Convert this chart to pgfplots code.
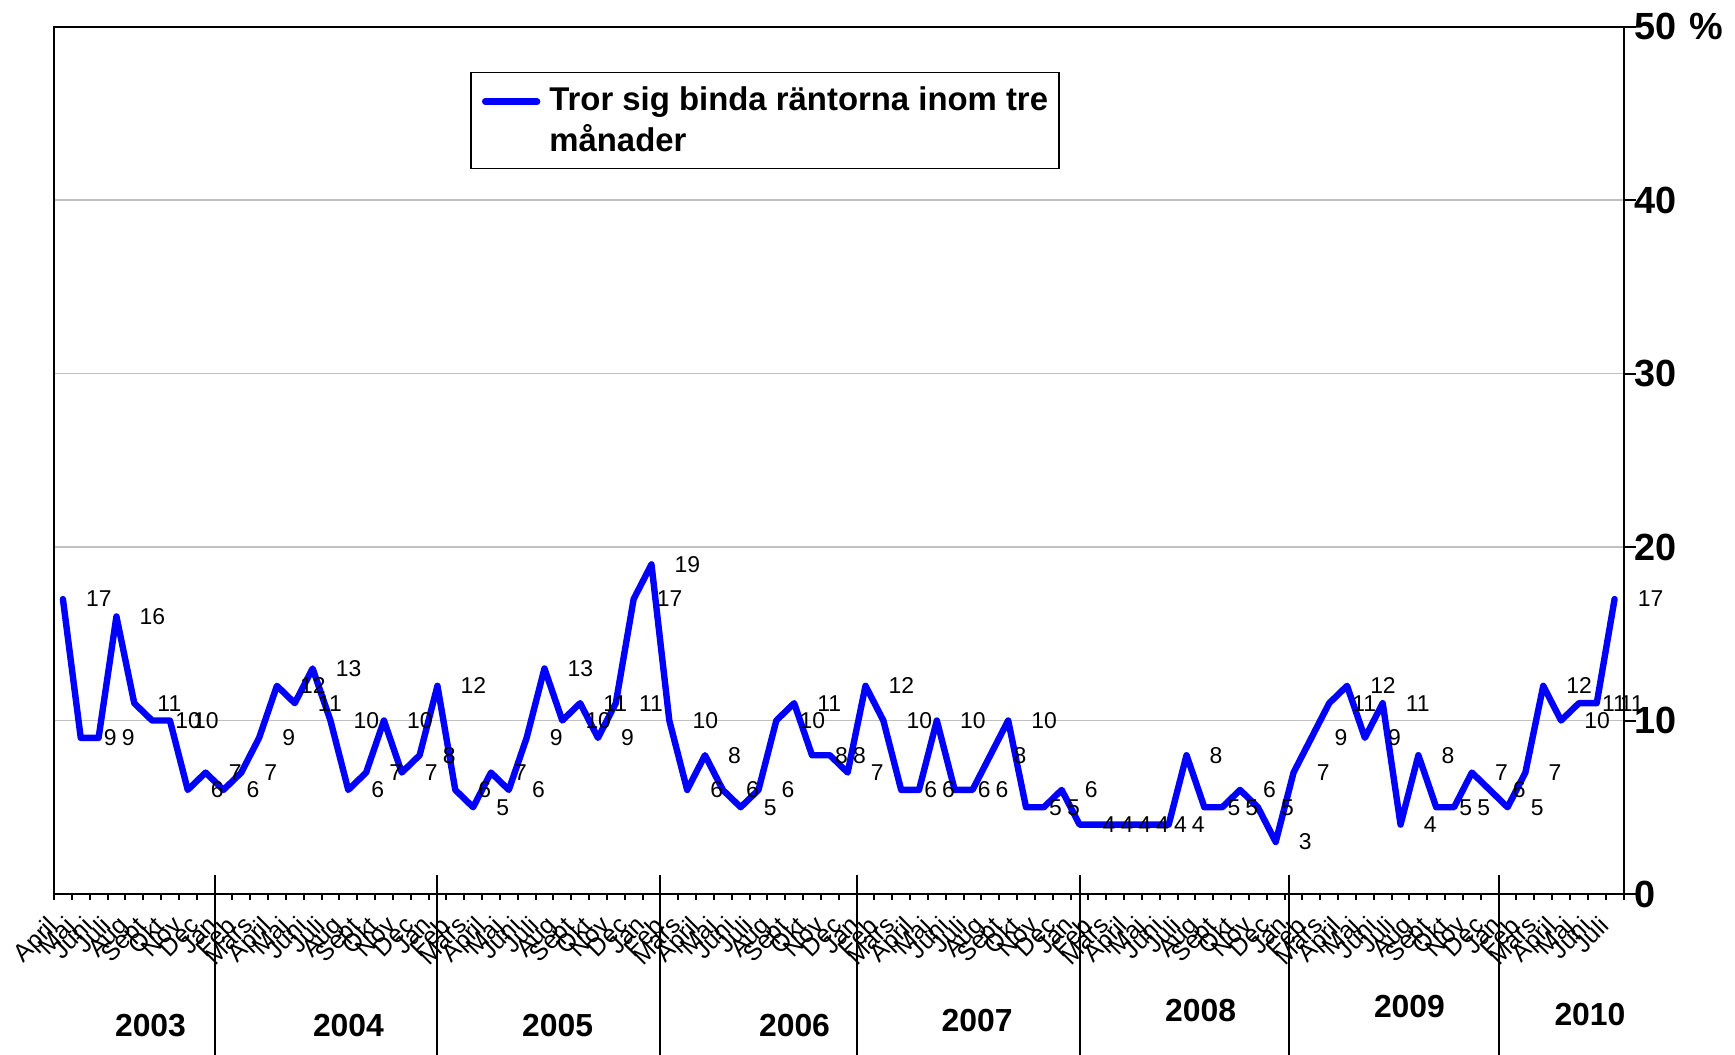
\documentclass[border=0pt]{standalone}
\usepackage{fontspec}
\setmainfont{Liberation Sans}
\usepackage{pgfplots}
\pgfplotsset{compat=1.18}
\definecolor{gridgray}{RGB}{192,192,192}
\definecolor{lineblue}{RGB}{0,0,255}

\begin{document}
\begin{tikzpicture}
\useasboundingbox (0,0) rectangle (867.5bp,527.5bp);
\begin{axis}[
  at={(27bp,80.5bp)}, anchor=south west,
  width=784.75bp, height=433.7bp, scale only axis,
  xmin=0, xmax=88, ymin=0, ymax=50,
  clip=false,
  axis line style={line width=1bp, black},
  every tick/.style={black, line width=1bp},
  tick align=outside,
  xtick={0,...,88},
  xtick pos=left,
  ytick={0,10,...,50},
  ytick pos=right,
  yticklabel pos=right,
  yticklabels={\textbf{0},\textbf{10},\textbf{20},\textbf{30},\textbf{40},\textbf{50\hspace{0.35em}\%}},
  yticklabel style={font=\fontsize{19}{19}\selectfont, anchor=west, inner sep=1bp},
  xtick style={/pgfplots/major tick length=3bp},
  ytick style={/pgfplots/major tick length=6bp},
  xticklabels={April,Maj,Juni,Juli,Aug,Sept,Okt,Nov,Dec,
    Jan,Feb,Mars,April,Maj,Juni,Juli,Aug,Sept,Okt,Nov,Dec,
    Jan,Feb,Mars,April,Maj,Juni,Juli,Aug,Sept,Okt,Nov,Dec,
    Jan,Feb,Mars,April,Maj,Juni,Juli,Aug,Sept,Okt,Nov,Dec,
    Jan,Feb,Mars,April,Maj,Juni,Juli,Aug,Sept,Okt,Nov,Dec,
    Jan,Feb,Mars,April,Maj,Juni,Juli,Aug,Sept,Okt,Nov,Dec,
    Jan,Feb,Mars,April,Maj,Juni,Juli,Aug,Sept,Okt,Nov,Dec,
    Jan,Feb,Mars,April,Maj,Juni,Juli,{}},
  xticklabel style={font=\fontsize{12.5}{12.5}\selectfont, xshift=-4bp, rotate=45, anchor=north east, inner sep=0pt},
  xticklabel shift=6bp,
  ymajorgrids, grid style={gridgray, line width=0.8bp},
  /pgf/number format/assume math mode=true,
  legend style={at={(0.2652,0.9478)}, anchor=north west, draw=black, line width=0.75bp,
    font=\bfseries\fontsize{16.5}{21}\selectfont,
    inner xsep=5.5bp, inner ysep=6.8bp, column sep=4.5bp,
    nodes={inner sep=0pt, anchor=west, align=left}},
  legend image code/.code={\draw[#1] (1.4bp,9.5bp) -- (27.4bp,9.5bp);},
]
\addplot[lineblue, line width=3.2bp, line join=round, line cap=round,
  nodes near coords,
  nodes near coords style={anchor=west, inner sep=0pt, xshift=10bp, text=black,
    font=\fontsize{11.5}{11.5}\selectfont}]
coordinates {
(0.5,17)(1.5,9)(2.5,9)(3.5,16)(4.5,11)(5.5,10)(6.5,10)(7.5,6)(8.5,7)
(9.5,6)(10.5,7)(11.5,9)(12.5,12)(13.5,11)(14.5,13)(15.5,10)(16.5,6)(17.5,7)(18.5,10)(19.5,7)(20.5,8)
(21.5,12)(22.5,6)(23.5,5)(24.5,7)(25.5,6)(26.5,9)(27.5,13)(28.5,10)(29.5,11)(30.5,9)(31.5,11)(32.5,17)
(33.5,19)(34.5,10)(35.5,6)(36.5,8)(37.5,6)(38.5,5)(39.5,6)(40.5,10)(41.5,11)(42.5,8)(43.5,8)(44.5,7)
(45.5,12)(46.5,10)(47.5,6)(48.5,6)(49.5,10)(50.5,6)(51.5,6)(52.5,8)(53.5,10)(54.5,5)(55.5,5)(56.5,6)
(57.5,4)(58.5,4)(59.5,4)(60.5,4)(61.5,4)(62.5,4)(63.5,8)(64.5,5)(65.5,5)(66.5,6)(67.5,5)(68.5,3)
(69.5,7)(70.5,9)(71.5,11)(72.5,12)(73.5,9)(74.5,11)(75.5,4)(76.5,8)(77.5,5)(78.5,5)(79.5,7)(80.5,6)
(81.5,5)(82.5,7)(83.5,12)(84.5,10)(85.5,11)(86.5,11)(87.5,17)
};
\addlegendentry{Tror sig binda räntorna inom tre\\månader}

% year separators
\pgfplotsinvokeforeach{9,21.5,34,45,57.5,69.25,81}{
  \draw[black, line width=1bp] (axis cs:#1,0) ++(0,9.5bp) -- ++(0,-90bp);
}
% year labels
\begin{scope}[every node/.style={font=\bfseries\fontsize{16}{16}\selectfont, inner sep=0pt}]
\node[yshift=-66bp] at (axis cs:5.41,0) {2003};
\node[yshift=-66bp] at (axis cs:16.51,0) {2004};
\node[yshift=-66bp] at (axis cs:28.24,0) {2005};
\node[yshift=-66bp] at (axis cs:41.52,0) {2006};
\node[yshift=-63.5bp] at (axis cs:51.76,0) {2007};
\node[yshift=-58.5bp] at (axis cs:64.29,0) {2008};
\node[yshift=-56.5bp] at (axis cs:76.0,0) {2009};
\node[yshift=-60.5bp] at (axis cs:86.12,0) {2010};
\end{scope}
\end{axis}
\end{tikzpicture}
\end{document}
